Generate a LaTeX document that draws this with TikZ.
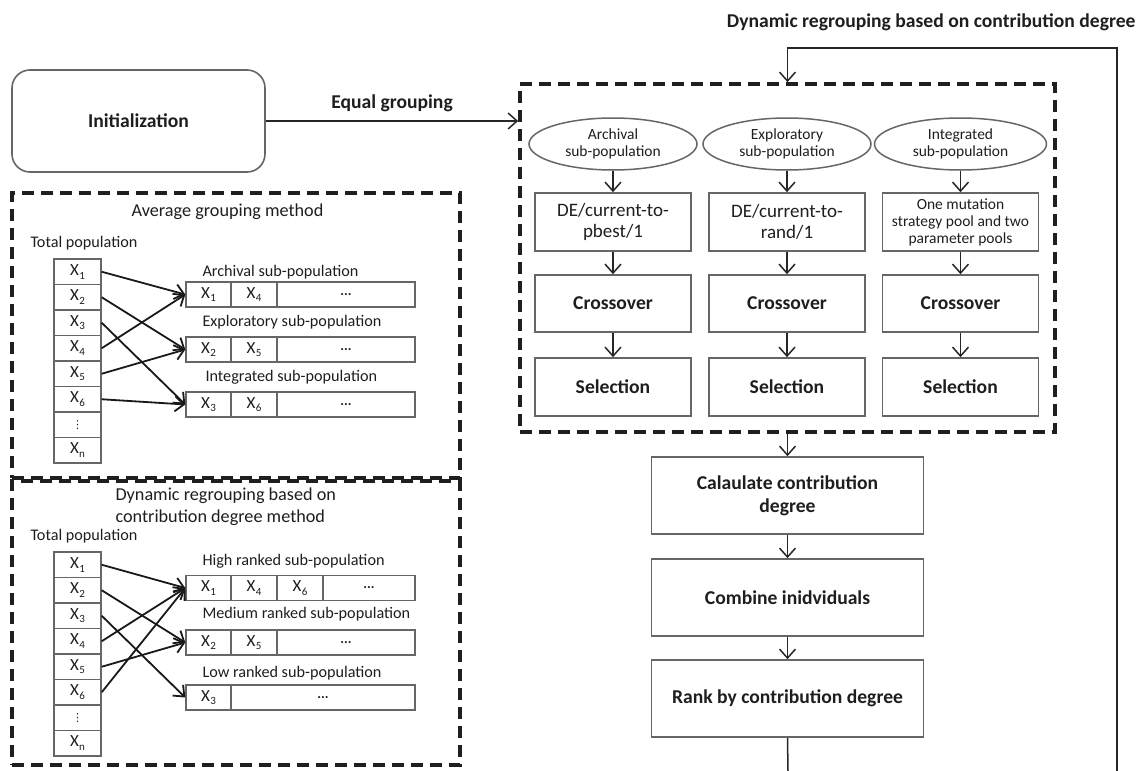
\documentclass[tikz,border=0pt]{standalone}
\usepackage{fontspec}
\setmainfont{Carlito}
\newfontfamily\dvfont{DejaVu Sans}
\usetikzlibrary{arrows.meta,shapes.geometric,calc}
\definecolor{boxgray}{HTML}{666666}
\definecolor{txt}{HTML}{1E1E1E}
\newcommand\Xs[1]{X\kern0.3pt\raisebox{-0.45ex}{\fontsize{11}{11}\selectfont #1}}
\newcommand\vd{{\dvfont\fontsize{11}{11}\selectfont ⋮}}
\begin{document}
\begin{tikzpicture}[x=1pt,y=-1pt,
  proc/.style={draw=boxgray,line width=1.6pt,inner sep=2pt,align=center,text=txt},
  bigtxt/.style={font=\fontsize{19.6}{23}\selectfont\bfseries,text=txt},
  dashbox/.style={draw=black!88,line width=3.6pt,dash pattern=on 12pt off 7pt},
  arr/.style={-{Straight Barb[length=9pt,width=16pt]},line width=1.5pt,draw=black!85},
  larr/.style={-{Straight Barb[length=9pt,width=15pt]},line width=1.8pt,draw=black!90},
  ell/.style={ellipse,draw=boxgray,line width=1.5pt,minimum width=168pt,minimum height=52pt,inner sep=0pt,align=center,text=txt,font=\fontsize{15.5}{17}\selectfont},
  cell/.style={draw=boxgray,line width=1.4pt,minimum height=25.5pt,inner sep=0pt,text=txt,font=\fontsize{17}{17}\selectfont},
  dots/.style={font=\fontsize{14}{14}\selectfont\bfseries},
  lbl/.style={anchor=west,text=txt,font=\fontsize{16.2}{19}\selectfont},
  head/.style={text=txt,font=\fontsize{18.2}{21.5}\selectfont}]
\useasboundingbox (0,0) rectangle (1141,771);

% ---------- top-left ----------
\node[proc,rounded corners=18pt,minimum width=253pt,minimum height=102pt,bigtxt] (init) at (138.5,121) {Initialization};

% ---------- main dashed box ----------
\node[dashbox,minimum width=535pt,minimum height=348pt,inner sep=0pt] (main) at (787.5,258) {};
\draw[arr] (init.east) -- (init.east -| main.west) node[midway,above=5pt,bigtxt] (eq) {Equal grouping};

\node[anchor=east,bigtxt] (title) at (1139,22) {Dynamic regrouping based on contribution degree};

\foreach \c/\x in {a/613,b/787,c/960.5}{
  \node[proc,minimum width=156pt,minimum height=57pt,bigtxt] (cr\c) at (\x,303.5) {Crossover};
  \node[proc,minimum width=156pt,minimum height=58pt,bigtxt] (se\c) at (\x,387) {Selection};
}
\node[ell] (ea) at (613,144) {Archival\\sub-population};
\node[ell] (eb) at (787,144) {Exploratory\\sub-population};
\node[ell,minimum width=172pt] (ec) at (960.5,144) {Integrated\\sub-population};
\node[proc,minimum width=156pt,minimum height=58pt,font=\fontsize{19}{21}\selectfont] (ma) at (613,222) {DE/current-to-\\pbest/1};
\node[proc,minimum width=156pt,minimum height=58pt,font=\fontsize{19}{21}\selectfont] (mb) at (787,222) {DE/current-to-\\rand/1};
\node[proc,minimum width=156pt,minimum height=58pt,font=\fontsize{15.5}{17}\selectfont] (mc) at (960.5,222) {One mutation\\strategy pool and two\\parameter pools};
\foreach \c in {a,b,c}{
  \draw[arr] (e\c.south) -- (m\c.north);
  \draw[arr] (m\c.south) -- (cr\c.north);
  \draw[arr] (cr\c.south) -- (se\c.north);
}

% ---------- lower chain ----------
\node[proc,minimum width=272pt,minimum height=77pt,bigtxt] (calc) at (787.5,495.5) {Calaulate contribution\\degree};
\node[proc,minimum width=272pt,minimum height=77pt,bigtxt] (comb) at (787.5,597.5) {Combine inidviduals};
\node[proc,minimum width=272pt,minimum height=77pt,bigtxt] (rank) at (787.5,698.5) {Rank by contribution degree};
\draw[arr] (main.south -| calc.north) -- (calc.north);
\draw[arr] (calc.south) -- (comb.north);
\draw[arr] (comb.south) -- (rank.north);
\coordinate (bl) at (788,771);
\coordinate (br) at (1117,771);
\coordinate (tr) at (1117,48);
\draw[line width=1.5pt,draw=black!85] (rank.south) -- (bl);
\draw[arr] (br) -- (tr) -| (main.north);

% ---------- average grouping box ----------
\node[dashbox,minimum width=448pt,minimum height=285pt,inner sep=0pt] (avg) at (236,335.5) {};
\node[head] (avgt) at (227.5,212) {Average grouping method};
\node[lbl] (avgtp) at (27,243) {Total population};
\foreach \k/\t in {1/\Xs{1},2/\Xs{2},3/\Xs{3},4/\Xs{4},5/\Xs{5},6/\Xs{6},7/\vd,8/\Xs{n}}{
  \node[cell,minimum width=47pt] (a\k) at (77.5,{259+25.5*(\k-0.5)}) {\t};
}
\node[lbl] (al1) at (199,272) {Archival sub-population};
\node[lbl] (al2) at (199,322) {Exploratory sub-population};
\node[lbl] (al3) at (202,377) {Integrated sub-population};
\foreach \r/\y/\p/\q in {1/294.5/\Xs{1}/\Xs{4},2/349.5/\Xs{2}/\Xs{5},3/404.5/\Xs{3}/\Xs{6}}{
  \node[cell,minimum width=45pt,minimum height=25pt] (ar\r a) at (208.5,\y) {\p};
  \node[cell,minimum width=46pt,minimum height=25pt] (ar\r b) at (254,\y) {\q};
  \node[cell,minimum width=138pt,minimum height=25pt,dots] (ar\r c) at (346,\y) {...};
}
\foreach \s/\d in {1/1,2/2,3/3,4/1,5/2,6/3}{
  \draw[larr] (a\s.east) -- (ar\d a.west);
}

% ---------- dynamic regrouping box ----------
\node[dashbox,minimum width=448pt,minimum height=284pt,inner sep=0pt] (dyn) at (236,623) {};
\node[head,anchor=west,align=left] (dynt) at (112,506.5) {Dynamic regrouping based on\\contribution degree method};
\node[lbl] (dyntp) at (27,536) {Total population};
\foreach \k/\t in {1/\Xs{1},2/\Xs{2},3/\Xs{3},4/\Xs{4},5/\Xs{5},6/\Xs{6},7/\vd,8/\Xs{n}}{
  \node[cell,minimum width=47pt] (d\k) at (77.5,{552+25.5*(\k-0.5)}) {\t};
}
\node[lbl] (dl1) at (199,561) {High ranked sub-population};
\node[lbl] (dl2) at (199,614) {Medium ranked sub-population};
\node[lbl] (dl3) at (199,673) {Low ranked sub-population};
\node[cell,minimum width=45pt,minimum height=25pt] (dr1a) at (208.5,588) {\Xs{1}};
\node[cell,minimum width=46pt,minimum height=25pt] (dr1b) at (254,588) {\Xs{4}};
\node[cell,minimum width=46pt,minimum height=25pt] (dr1c) at (300,588) {\Xs{6}};
\node[cell,minimum width=92pt,minimum height=25pt,dots] (dr1d) at (369,588) {...};
\node[cell,minimum width=45pt,minimum height=25pt] (dr2a) at (208.5,642.5) {\Xs{2}};
\node[cell,minimum width=46pt,minimum height=25pt] (dr2b) at (254,642.5) {\Xs{5}};
\node[cell,minimum width=138pt,minimum height=25pt,dots] (dr2c) at (346,642.5) {...};
\node[cell,minimum width=45pt,minimum height=25pt] (dr3a) at (208.5,697.5) {\Xs{3}};
\node[cell,minimum width=184pt,minimum height=25pt,dots] (dr3b) at (323,697.5) {...};
\foreach \s/\d in {1/1,4/1,6/1,2/2,5/2,3/3}{
  \draw[larr] (d\s.east) -- (dr\d a.west);
}
\end{tikzpicture}
\end{document}
